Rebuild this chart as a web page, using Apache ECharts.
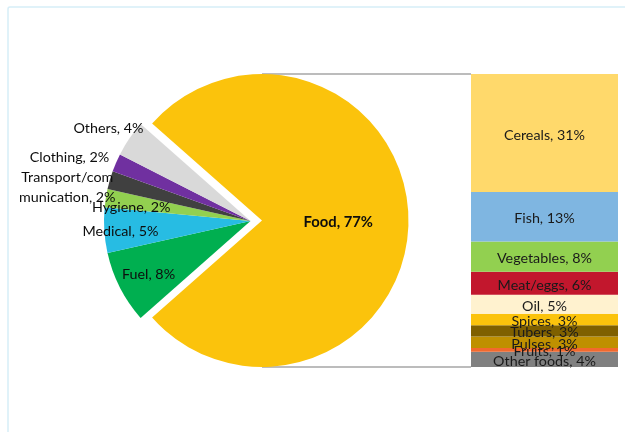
<!DOCTYPE html>
<html>
<head>
<meta charset="utf-8">
<script src="https://cdn.jsdelivr.net/npm/echarts@6/dist/echarts.min.js"></script>
<style>html,body{margin:0;padding:0;background:#fff}#c{width:625px;height:432px}</style>
</head>
<body>
<div id="c"></div>
<script>
// ---- data ----
const pieNames  = ['Food', 'Fuel', 'Medical', 'Hygiene', 'Transport/communication', 'Clothing', 'Others'];
const pieValues = [77, 8, 5, 2, 2, 2, 4];
const barNames  = ['Cereals', 'Fish', 'Vegetables', 'Meat/eggs', 'Oil', 'Spices', 'Tubers', 'Pulses', 'Fruits', 'Other foods'];
const barValues = [31, 13, 8, 6, 5, 3, 3, 3, 1, 4];

// ---- styles ----
const pieColors = {
  'Food': '#FBC30C', 'Fuel': '#00AF50', 'Medical': '#27BCE3', 'Hygiene': '#92D050',
  'Transport/communication': '#404040', 'Clothing': '#7030A0', 'Others': '#D9D9D9'
};
const barColors = {
  'Cereals': '#FFD96B', 'Fish': '#7FB6E1', 'Vegetables': '#92D050', 'Meat/eggs': '#C2172D',
  'Oil': '#FFF2CF', 'Spices': '#FBC30C', 'Tubers': '#7F6000', 'Pulses': '#BF9000',
  'Fruits': '#F2692E', 'Other foods': '#808080'
};
const labelOffsets = {
  'Fuel': [-34, 19], 'Medical': [-54, 6], 'Hygiene': [-44, -1.5],
  'Transport/communication': [-110, -12], 'Clothing': [-111, -33], 'Others': [-79, -50]
};
const FONT = 'Lato';
const FS = 14.3;
const PIE_CX = 262, PIE_CY = 220.5, R = 146.5, EXPLODE = 11.5;
const BAR_L = 471, BAR_T = 74, BAR_W = 147, BAR_H = 293;

const total = pieValues.reduce((a, b) => a + b, 0);
const startAngle = 180 - ((total - pieValues[0]) / total) * 180;

function wrapName(n) { return n.length > 14 ? n.slice(0, 13) + '\n' + n.slice(13) : n; }
const transparent = 'rgba(0,0,0,0)';

// main (Food) pie
const foodData = pieNames.map((n, i) => i === 0 ? {
  name: n, value: pieValues[i], itemStyle: { color: pieColors[n] },
  label: { show: true, position: 'inside', fontWeight: 'bold', fontSize: 14.8, offset: [0, 2], formatter: '{b}, {c}%' }
} : {
  name: n, value: pieValues[i], itemStyle: { color: transparent }, label: { show: false }
});
// exploded group pie
const otherData = pieNames.map((n, i) => i === 0 ? {
  name: n, value: pieValues[i], itemStyle: { color: transparent }, label: { show: false }
} : {
  name: n, value: pieValues[i], itemStyle: { color: pieColors[n] },
  label: {
    show: true, position: 'inside', offset: labelOffsets[n], lineHeight: 20,
    formatter: p => wrapName(p.name) + ', ' + p.value + '%'
  }
});

const pieCommon = {
  type: 'pie', radius: R, startAngle: startAngle, clockwise: true,
  avoidLabelOverlap: false, silent: true, animation: false,
  minShowLabelAngle: 0,
  labelLayout: { hideOverlap: false },
  itemStyle: { borderWidth: 0 }, labelLine: { show: false },
  label: { color: '#0d0d0d', fontFamily: FONT, fontSize: FS },
  emphasis: { disabled: true }
};

const order = barNames.slice().reverse();
const barSeries = order.map(n => ({
  type: 'bar', name: n, stack: 'food', barWidth: '100%',
  xAxisIndex: 0, yAxisIndex: 0, silent: true, animation: false,
  data: [barValues[barNames.indexOf(n)]],
  itemStyle: { color: barColors[n] },
  label: { show: true, position: 'inside', offset: [0, 2], color: '#1a1a1a', fontFamily: FONT, fontSize: FS, formatter: '{a}, {c}%' }
}));

const chart = echarts.init(document.getElementById('c'), null, { renderer: 'canvas' });
chart.setOption({
  animation: false,
  backgroundColor: '#fff',
  grid: { left: BAR_L, top: BAR_T, width: BAR_W, height: BAR_H, containLabel: false },
  xAxis: { type: 'category', data: ['Food'], show: false },
  yAxis: { type: 'value', min: 0, max: pieValues[0], show: false },
  graphic: [
    { type: 'rect', shape: { x: 8, y: 7, width: 800, height: 600, r: 2 }, style: { fill: 'none', stroke: '#D6EEF8', lineWidth: 1.5 }, silent: true },
    { type: 'line', shape: { x1: PIE_CX, y1: PIE_CY - R, x2: BAR_L, y2: BAR_T }, style: { stroke: '#A6A6A6', lineWidth: 1.5 }, silent: true, z: 0 },
    { type: 'line', shape: { x1: PIE_CX, y1: PIE_CY + R, x2: BAR_L, y2: BAR_T + BAR_H }, style: { stroke: '#A6A6A6', lineWidth: 1.5 }, silent: true, z: 0 }
  ],
  series: [
    Object.assign({}, pieCommon, { center: [PIE_CX, PIE_CY], data: foodData }),
    Object.assign({}, pieCommon, { center: [PIE_CX - EXPLODE, PIE_CY + 0.5], data: otherData })
  ].concat(barSeries)
});
</script>
</body>
</html>
